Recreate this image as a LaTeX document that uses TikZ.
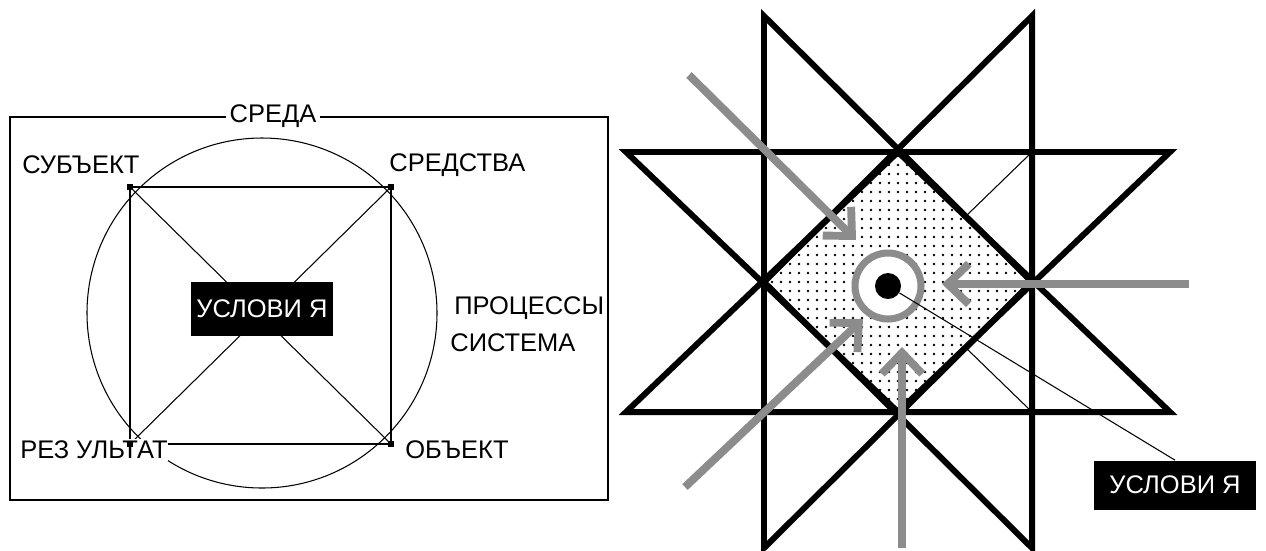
\documentclass[tikz,border=0pt]{standalone}
\usepackage{fontspec}
\setmainfont{Liberation Sans}
\usepackage{xcolor}
\usepackage{tikz}
\usetikzlibrary{arrows.meta}
\definecolor{dither}{gray}{0.55}
\newlength\pxl
\setlength\pxl{0.2mm}
\tikzset{
	lbl/.style={font=\fontsize{14.5}{17}\selectfont, inner sep=0pt},
	tag/.style={lbl, fill=black, text=white},
	heavy/.style={line width=3.4pt, line join=miter},
	fine/.style={line width=0.6pt},
	flow/.style={draw=dither, line width=4.5pt, -{Straight Barb[length=12pt, width=23pt]}},
}

\begin{document}
\begin{tikzpicture}[x=0.2mm, y=-0.2mm]
			\useasboundingbox (0,0) rectangle (1266,550);

			% Left: environment, system circle, square
			\draw[line width=0.85pt] (10,117) rectangle (608,500);
			\node[lbl, fill=white, inner xsep=2pt] (env) at (273,116) {СРЕДА};
			\draw[fine] (262,313) circle [radius=175];

			\coordinate (subj) at (130,187);
			\coordinate (means) at (391,187);
			\coordinate (res) at (130,444);
			\coordinate (obj) at (391,444);
			\draw[line width=0.85pt] (subj) -- (means) -- (obj) -- (res) -- cycle;
			\draw[fine] (subj) -- (obj);
			\draw[fine] (means) -- (res);

			\node[tag, minimum width=142\pxl, minimum height=54\pxl] (cond) at (262,309) {УСЛОВИ Я};

			\node[lbl, anchor=west] (subjl) at (22,165) {СУБЪЕКТ};
			\node[lbl, anchor=west] (meansl) at (389,165) {СРЕДСТВА};
			\node[lbl, anchor=west] (procl) at (454,308) {ПРОЦЕССЫ};
			\node[lbl, anchor=west] (sysl) at (450,343) {СИСТЕМА};
			\node[lbl, anchor=west, fill=white, inner ysep=1pt] (resl) at (20,450) {РЕЗ УЛЬТАТ};
			\node[lbl, anchor=west] (objl) at (405,450) {ОБЪЕКТ};

			\foreach \c in {subj, means, res, obj}
				\fill (\c) +(-3,-3) rectangle +(3,3);

			% Right: star
			\def\cx{898}
			\def\cy{282}
			\def\hx{134}
			\def\hy{130}
			\def\tx{272}
			\def\ty{266}

			% dotted field of the diamond
			\begin{scope}
				\clip (\cx,\cy-\hy) -- (\cx+\hx,\cy) -- (\cx,\cy+\hy) -- (\cx-\hx,\cy) -- cycle;
				\foreach \i in {0,...,30}
					\foreach \j in {0,...,30}
						\fill (\cx-135+9*\i, \cy-135+9*\j) circle [radius=1.3];
			\end{scope}

			\draw[fine] (\cx+\hx,\cy-\hy) -- (\cx+\hx/2,\cy-\hy/2);
			\draw[fine] (\cx+\hx/2,\cy+\hy/2) -- (\cx+\hx,\cy+\hy);

			\draw[heavy] (\cx-\hx,\cy-\ty) -- (\cx-\hx,\cy+\ty) -- (\cx+\hx,\cy) -- cycle;
			\draw[heavy] (\cx+\hx,\cy-\ty) -- (\cx+\hx,\cy+\ty) -- (\cx-\hx,\cy) -- cycle;
			\draw[heavy] (\cx-\tx,\cy-\hy) -- (\cx+\tx,\cy-\hy) -- (\cx,\cy+\hy) -- cycle;
			\draw[heavy] (\cx-\tx,\cy+\hy) -- (\cx+\tx,\cy+\hy) -- (\cx,\cy-\hy) -- cycle;

			% core with ring
			\draw[dither, line width=4pt, fill=white] (888,286) circle [radius=33];
			\node[circle, fill=black, minimum size=26\pxl, inner sep=0pt] (core) at (888,286) {};

			\node[tag, minimum width=162\pxl, minimum height=49\pxl] (cond2) at (1175,485) {УСЛОВИ Я};
			\draw[fine] (core) -- (cond2.north);

			% incoming arrows
			\coordinate (nwA) at (689,75);
			\coordinate (nwB) at (856,240);
			\coordinate (eA) at (1189,284);
			\coordinate (eB) at (942,284);
			\coordinate (swA) at (685,487);
			\coordinate (swB) at (863,319);
			\coordinate (sA) at (902,548);
			\coordinate (sB) at (902,347);
			\draw[flow] (nwA) -- (nwB);
			\draw[flow] (eA) -- (eB);
			\draw[flow] (swA) -- (swB);
			\draw[flow] (sA) -- (sB);

		\end{tikzpicture}
\end{document}
